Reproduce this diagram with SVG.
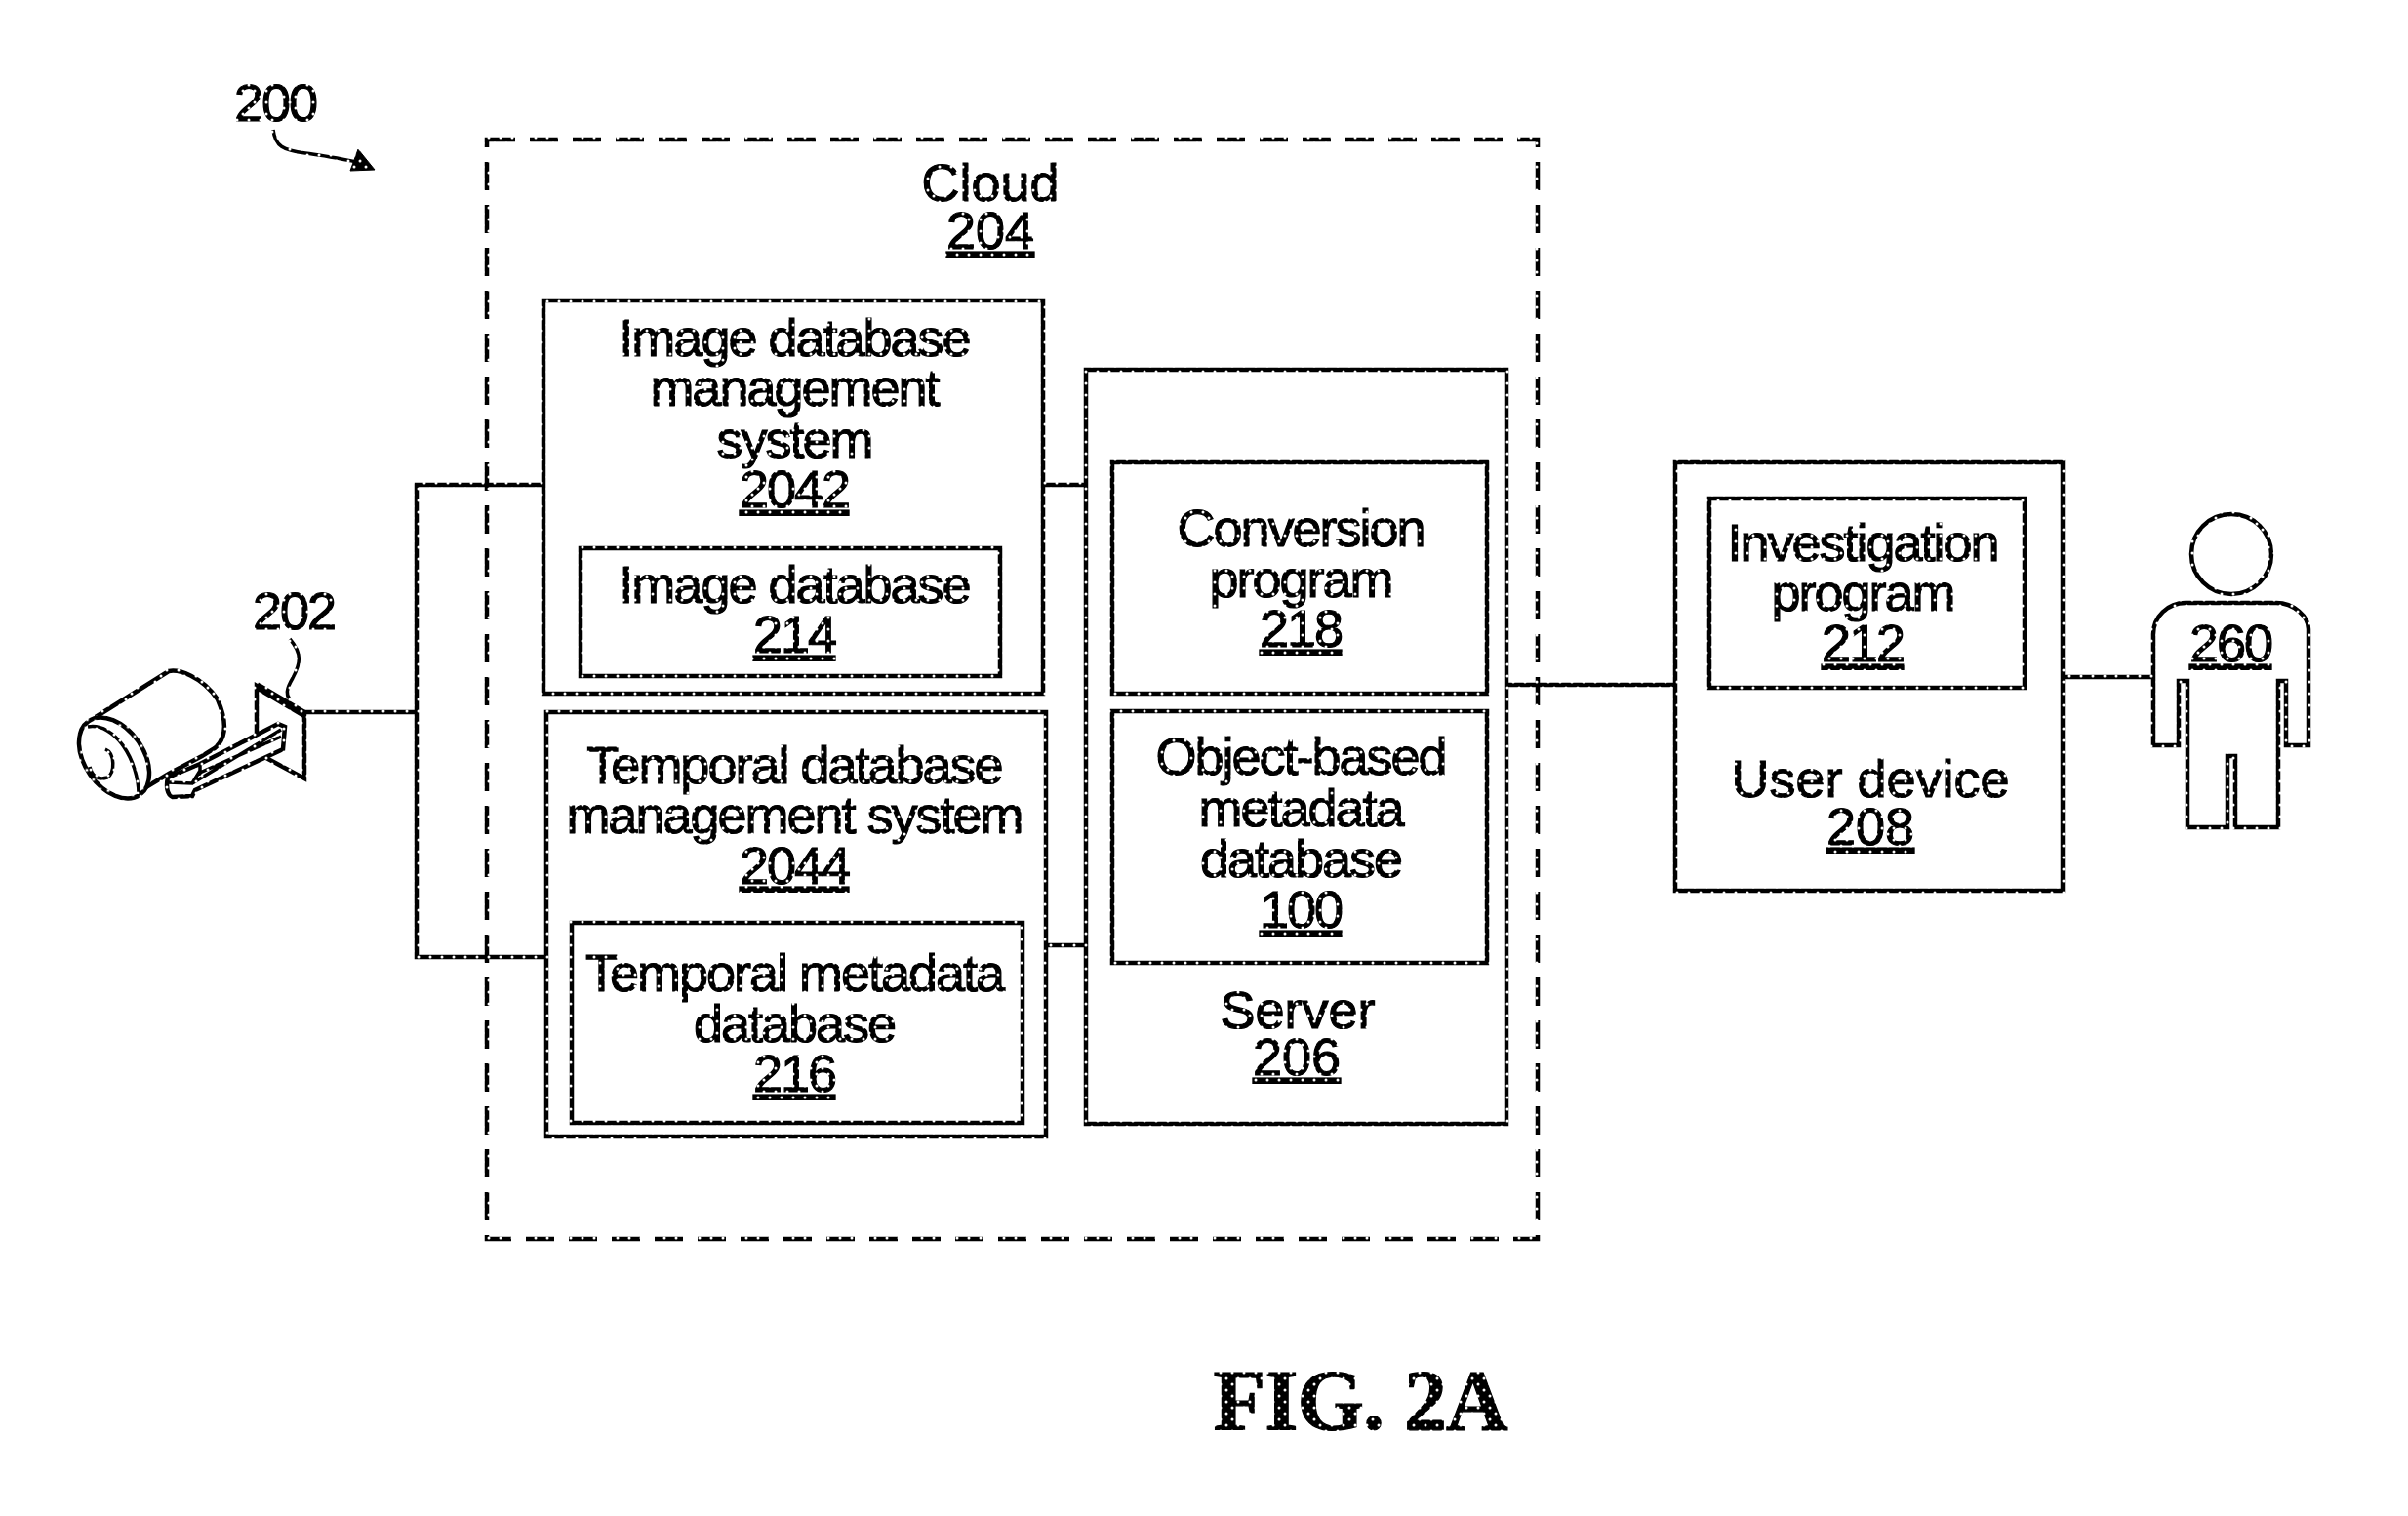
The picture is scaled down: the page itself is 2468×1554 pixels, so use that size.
<svg xmlns="http://www.w3.org/2000/svg" width="2468" height="1554" viewBox="0 0 2468 1554">
  <defs>
    <!-- speckled ink used for every line and glyph -->
    <pattern id="ink" patternUnits="userSpaceOnUse" width="12" height="12">
      <rect width="12" height="12" fill="#000"/>
      <circle cx="3" cy="3" r="1.5" fill="#fff"/>
      <circle cx="9" cy="9" r="1.5" fill="#fff"/>
    </pattern>
  </defs>
  <style>
    g rect, g path, g ellipse, g circle { fill: none; stroke: url(#ink); stroke-width: 4.5; }
    g .thin { stroke-width: 3.5; }
    g .solid { fill: #fff; }
    text { font-family: "Liberation Sans", Arial, sans-serif; font-size: 54px; letter-spacing: -2px; text-anchor: middle; fill: url(#ink); stroke: url(#ink); stroke-width: 1.2; }
    .ref { text-decoration: underline; }
    .wide { letter-spacing: 0; }
    .fig { font-family: "Liberation Serif", "Times New Roman", serif; font-weight: bold; font-size: 88px; letter-spacing: -1px; }
    g .dash { stroke-dasharray: 29 15; }
  </style>
  <rect width="2468" height="1554" fill="#fff"/>

  <g id="connectors">
    <path d="M312 730H427"/>
    <path d="M557 497H427V981H560"/>
    <path d="M1069 497H1113"/>
    <path d="M1072 969H1113"/>
    <path d="M1544 702H1717"/>
    <path d="M2114 694H2207"/>
  </g>

  <g id="label-200">
    <text x="282" y="124">200</text>
    <path class="thin" d="M280 133C282 150 290 154 313 157C330 159 345 162 366 166"/>
    <path d="M367 153L384 174L359 175Z" style="fill:url(#ink);stroke-width:1"/>
  </g>

  <g id="camera-202">
    <text x="301" y="645">202</text>
    <path class="thin" d="M297 655C310 670 308 680 300 695C293 707 293 712 297 717"/>
    <g id="camera-body">
      <path d="M98 735L173 688C183 686 207 693 223 717C233 740 232 757 220 767L207 775L173 793L133 817"/>
      <ellipse cx="117" cy="777" rx="46" ry="30" transform="rotate(55 117 777)" style="fill:#fff"/>
      <path class="thin" d="M90 745C118 740 142 780 142 814"/>
      <path class="thin" d="M108 768C118 772 118 792 110 797C100 800 94 795 92 786"/>
    </g>
    <g id="camera-mount">
      <path d="M263 753V703L312 732V798L273 777"/>
      <path d="M263 703L312 732" style="stroke-width:8"/>
      <path class="solid" d="M172 797C170 806 171 815 177 817L197 816L200 810L290 768L292 745L285 742L205 783L172 797Z"/>
      <path class="thin" d="M172 802L197 803L205 790M197 803L288 748M205 792L288 755M205 783V795"/>
    </g>
  </g>

  <g id="cloud-204">
    <rect class="dash" x="499" y="143" width="1077" height="1127"/>
    <text class="wide" x="1015" y="206">Cloud</text>
    <text class="ref wide" x="1015" y="255">204</text>
  </g>

  <g id="image-dbms-2042">
    <rect x="557" y="308" width="512" height="403"/>
    <text x="814" y="365">Image database</text>
    <text x="814" y="416">management</text>
    <text x="814" y="469">system</text>
    <text class="ref" x="814" y="520">2042</text>
  </g>
  <g id="image-db-214">
    <rect x="595" y="562" width="430" height="131"/>
    <text x="814" y="618">Image database</text>
    <text class="ref" x="814" y="669">214</text>
  </g>

  <g id="temporal-dbms-2044">
    <rect x="560" y="730" width="512" height="435"/>
    <text x="814" y="803">Temporal database</text>
    <text x="814" y="854">management system</text>
    <text class="ref" x="814" y="906">2044</text>
  </g>
  <g id="temporal-db-216">
    <rect x="586" y="946" width="462" height="205"/>
    <text x="814" y="1016">Temporal metadata</text>
    <text x="814" y="1068">database</text>
    <text class="ref" x="814" y="1119">216</text>
  </g>

  <g id="server-206">
    <rect x="1113" y="379" width="431" height="773"/>
    <text class="wide" x="1330" y="1054">Server</text>
    <text class="ref wide" x="1329" y="1102">206</text>
  </g>
  <g id="conversion-218">
    <rect x="1140" y="474" width="384" height="237"/>
    <text x="1333" y="560">Conversion</text>
    <text x="1333" y="612">program</text>
    <text class="ref" x="1333" y="663">218</text>
  </g>
  <g id="metadata-db-100">
    <rect x="1140" y="729" width="384" height="258"/>
    <text x="1333" y="794">Object-based</text>
    <text x="1333" y="847">metadata</text>
    <text x="1333" y="899">database</text>
    <text class="ref" x="1333" y="951">100</text>
  </g>

  <g id="user-device-208">
    <rect x="1717" y="474" width="397" height="439"/>
    <text class="wide" x="1917" y="817">User device</text>
    <text class="ref wide" x="1917" y="866">208</text>
  </g>
  <g id="investigation-212">
    <rect x="1752" y="511" width="323" height="194"/>
    <text x="1909" y="575">Investigation</text>
    <text x="1909" y="626">program</text>
    <text class="ref" x="1909" y="678">212</text>
  </g>

  <g id="person-260">
    <circle cx="2287" cy="568" r="41"/>
    <path d="M2207 764V650C2207 632 2222 618 2240 618H2333C2351 618 2366 632 2366 645V764H2343V698H2335V848H2291V775H2283V848H2242V698H2233V764Z"/>
    <text class="ref" x="2286" y="678">260</text>
  </g>

  <text class="fig" x="1394" y="1465">FIG. 2A</text>
</svg>
